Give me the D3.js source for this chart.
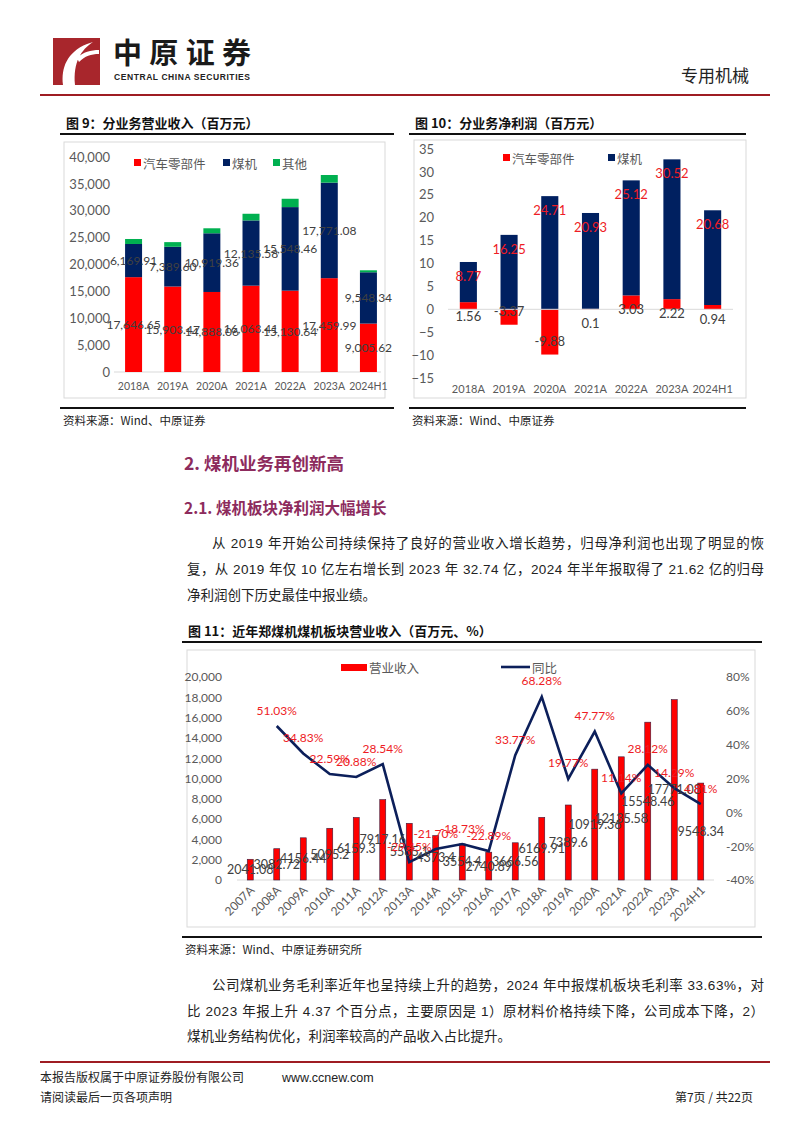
<!DOCTYPE html>
<html>
<head>
<meta charset="utf-8">
<script src="https://cdn.jsdelivr.net/npm/d3@7"></script>
<style>
  body { margin: 0; background: #fff; }
  svg { display: block; }
  text { font-family: 'Liberation Sans', 'Noto Sans CJK SC', sans-serif; }
  .cjk { font-family: 'Noto Sans CJK SC', sans-serif; }
  .xl { font-family: Lato, 'Noto Sans CJK SC', sans-serif; }
</style>
</head>
<body>
<div id="page"></div>
<script>
// fig 9 - revenue by segment
var cats9 = ['2018A', '2019A', '2020A', '2021A', '2022A', '2023A', '2024H1'];
var auto9 = [17646.65, 15903.47, 14888.06, 16063.41, 15130.64, 17459.99, 9005.62];
var coal9 = [6169.91, 7389.60, 10919.36, 12135.58, 15548.46, 17771.08, 9548.34];
var other9 = [930, 870, 930, 1240, 1550, 1420, 370];
var ticks9 = [0, 5000, 10000, 15000, 20000, 25000, 30000, 35000, 40000];

// fig 10 - net profit by segment
var cats10 = ['2018A', '2019A', '2020A', '2021A', '2022A', '2023A', '2024H1'];
var auto10 = [1.56, -3.37, -9.88, 0.1, 3.03, 2.22, 0.94];
var coal10 = [8.77, 16.25, 24.71, 20.93, 25.12, 30.52, 20.68];
var ticks10 = [-15, -10, -5, 0, 5, 10, 15, 20, 25, 30, 35];

// fig 11 - coal machinery revenue and yoy
var years11 = ['2007A', '2008A', '2009A', '2010A', '2011A', '2012A', '2013A', '2014A', '2015A',
  '2016A', '2017A', '2018A', '2019A', '2020A', '2021A', '2022A', '2023A', '2024H1'];
var rev11 = [2041.08, 3082.72, 4156.44, 5095.2, 6159.3, 7917.16, 5585.1, 4373.4, 3554.4,
  2740.89, 3666.56, 6169.91, 7389.6, 10919.36, 12135.58, 15548.46, 17771.08, 9548.34];
var yoy11 = [null, 51.03, 34.83, 22.59, 20.88, 28.54, -29.45, -21.70, -18.73,
  -22.89, 33.77, 68.28, 19.77, 47.77, 11.14, 28.12, 14.29, 4.81];
var ticksL11 = [0, 2000, 4000, 6000, 8000, 10000, 12000, 14000, 16000, 18000, 20000];
var ticksR11 = [-40, -20, 0, 20, 40, 60, 80];

var RED = '#ff0000', NAVY = '#002060', GREEN = '#00b050', GREY = '#595959', LAB = '#404040';
var MAROON = '#9e1c23', HEAD = '#8d2b5d';

var svg = d3.select('#page').append('svg')
  .attr('width', 802).attr('height', 1133);
svg.append('rect').attr('width', 802).attr('height', 1133).attr('fill', '#fff');

// ---------- header ----------
var logo = svg.append('g').attr('transform', 'translate(53,38)');
logo.append('rect').attr('width', 47).attr('height', 47).attr('fill', '#a8262c');
logo.append('path')
  .attr('d', 'M10,47 C8,30 14,14 34,6 L40,4 C28,12 20,24 22,47 Z M24,20 C30,14 38,12 46,12 L46,16 C38,16 32,18 26,24 Z')
  .attr('fill', '#fff');
svg.append('text').attr('class', 'cjk').attr('x', 113).attr('y', 64)
  .attr('font-size', 29).attr('font-weight', 'bold').attr('fill', '#1a1a1a')
  .attr('textLength', 138).text('中原证券');
svg.append('text').attr('x', 114).attr('y', 80)
  .attr('font-size', 8.5).attr('font-weight', 'bold').attr('fill', '#222')
  .attr('textLength', 136).text('CENTRAL CHINA SECURITIES');
svg.append('text').attr('class', 'cjk').attr('x', 749).attr('y', 82)
  .attr('text-anchor', 'end').attr('font-size', 17).attr('fill', '#222').text('专用机械');
svg.append('line').attr('x1', 40).attr('x2', 770).attr('y1', 95).attr('y2', 95)
  .attr('stroke', MAROON).attr('stroke-width', 2.2);

function figFrame(x1, x2, title, titleY, lineY, box, botY, srcText) {
  svg.append('text').attr('class', 'cjk').attr('x', x1 + 6).attr('y', titleY)
    .attr('font-size', 13).attr('font-weight', 'bold').attr('fill', '#111').text(title);
  svg.append('line').attr('x1', x1).attr('x2', x2).attr('y1', lineY).attr('y2', lineY)
    .attr('stroke', '#111').attr('stroke-width', 2);
  svg.append('rect').attr('x', box[0]).attr('y', box[1]).attr('width', box[2] - box[0])
    .attr('height', box[3] - box[1]).attr('fill', '#fff').attr('stroke', '#d9d9d9');
  svg.append('line').attr('x1', x1).attr('x2', x2).attr('y1', botY).attr('y2', botY)
    .attr('stroke', '#111').attr('stroke-width', 2);
  svg.append('text').attr('class', 'cjk').attr('x', x1 + 3).attr('y', botY + 17)
    .attr('font-size', 11.5).attr('fill', '#222').text(srcText);
}

// ---------- fig 9 ----------
figFrame(60, 394, '图 9：分业务营业收入（百万元）', 128, 134, [64, 142, 385, 398], 408, '资料来源：Wind、中原证券');

var x9 = d3.scaleBand().domain(cats9).range([114, 388]).paddingInner(0.566).paddingOuter(0.283);
var y9 = d3.scaleLinear().domain([0, 40000]).range([372, 157]);

var yAxis9 = svg.append('g').attr('transform', 'translate(114,0)')
  .call(d3.axisLeft(y9).tickValues(ticks9).tickFormat(d3.format(',')).tickSize(0).tickPadding(4));
yAxis9.select('.domain').remove();
yAxis9.selectAll('text').attr('class', 'xl').attr('font-size', 13).attr('fill', GREY);

svg.append('line').attr('x1', 114).attr('x2', 381).attr('y1', y9(0)).attr('y2', y9(0))
  .attr('stroke', '#d9d9d9');

var xAxis9 = svg.append('g').attr('transform', 'translate(0,380)')
  .call(d3.axisBottom(x9).tickSize(0).tickPadding(3));
xAxis9.select('.domain').remove();
xAxis9.selectAll('text').attr('class', 'xl').attr('font-size', 10.5).attr('fill', GREY);

var rows9 = cats9.map(function (c, i) {
  return { cat: c, auto: auto9[i], coal: coal9[i], other: other9[i] };
});
var stack9 = d3.stack().keys(['auto', 'coal', 'other'])(rows9);
var col9 = { auto: RED, coal: NAVY, other: GREEN };

svg.append('g').selectAll('g').data(stack9).enter().append('g')
  .attr('fill', function (s) { return col9[s.key]; })
  .selectAll('rect').data(function (s) { return s; }).enter().append('rect')
  .attr('x', function (d) { return x9(d.data.cat); })
  .attr('width', x9.bandwidth())
  .attr('y', function (d) { return y9(d[1]); })
  .attr('height', function (d) { return y9(d[0]) - y9(d[1]); });

stack9.slice(0, 2).forEach(function (s) {
  svg.append('g').selectAll('text').data(s).enter().append('text')
    .attr('class', 'xl')
    .attr('x', function (d) { return x9(d.data.cat) + x9.bandwidth() / 2; })
    .attr('y', function (d) { return y9((d[0] + d[1]) / 2); })
    .attr('text-anchor', 'middle').attr('dominant-baseline', 'central')
    .attr('font-size', 12).attr('fill', LAB)
    .text(function (d) { return d3.format(',.2f')(d.data[s.key]); });
});

var leg9 = [['汽车零部件', RED, 134], ['煤机', NAVY, 223], ['其他', GREEN, 273]];
leg9.forEach(function (l) {
  svg.append('rect').attr('x', l[2]).attr('y', 159).attr('width', 7).attr('height', 7).attr('fill', l[1]);
  svg.append('text').attr('class', 'cjk').attr('x', l[2] + 9).attr('y', 163)
    .attr('dominant-baseline', 'central').attr('font-size', 12.5).attr('fill', GREY).text(l[0]);
});

// ---------- fig 10 ----------
figFrame(409, 746, '图 10：分业务净利润（百万元）', 128, 134, [414, 140, 746, 398], 408, '资料来源：Wind、中原证券');

var x10 = d3.scaleBand().domain(cats10).range([448, 733]).paddingInner(0.58).paddingOuter(0.29);
var y10 = d3.scaleLinear().domain([-15, 35]).range([378, 149]);

var yAxis10 = svg.append('g').attr('transform', 'translate(440,0)')
  .call(d3.axisLeft(y10).tickValues(ticks10).tickSize(0).tickPadding(6));
yAxis10.select('.domain').remove();
yAxis10.selectAll('text').attr('class', 'xl').attr('font-size', 13).attr('fill', GREY);

var rows10 = cats10.map(function (c, i) { return { cat: c, auto: auto10[i], coal: coal10[i] }; });
var stack10 = d3.stack().keys(['auto', 'coal']).offset(d3.stackOffsetDiverging)(rows10);
var col10 = { auto: RED, coal: NAVY };

svg.append('g').selectAll('g').data(stack10).enter().append('g')
  .attr('fill', function (s) { return col10[s.key]; })
  .selectAll('rect').data(function (s) { return s; }).enter().append('rect')
  .attr('x', function (d) { return x10(d.data.cat); })
  .attr('width', x10.bandwidth())
  .attr('y', function (d) { return y10(Math.max(d[0], d[1])); })
  .attr('height', function (d) { return Math.abs(y10(d[0]) - y10(d[1])); });

svg.append('line').attr('x1', 448).attr('x2', 733).attr('y1', y10(0)).attr('y2', y10(0))
  .attr('stroke', '#d9d9d9');

var xAxis10 = svg.append('g').attr('transform', 'translate(0,385)')
  .call(d3.axisBottom(x10).tickSize(0).tickPadding(0));
xAxis10.select('.domain').remove();
xAxis10.selectAll('text').attr('class', 'xl').attr('font-size', 11).attr('fill', GREY);

stack10.forEach(function (s) {
  svg.append('g').selectAll('text').data(s).enter().append('text')
    .attr('class', 'xl')
    .attr('x', function (d) { return x10(d.data.cat) + x10.bandwidth() / 2; })
    .attr('y', function (d) {
      var v = d.data[s.key];
      return v >= 0 ? y10(d[1]) + 14 : y10(d[0]) - 14;
    })
    .attr('text-anchor', 'middle').attr('dominant-baseline', 'central')
    .attr('font-size', 13).attr('fill', s.key === 'coal' ? '#ee1c25' : LAB)
    .text(function (d) { return String(d.data[s.key]); });
});

var leg10 = [['汽车零部件', RED, 503], ['煤机', NAVY, 608]];
leg10.forEach(function (l) {
  svg.append('rect').attr('x', l[2]).attr('y', 154).attr('width', 7).attr('height', 7).attr('fill', l[1]);
  svg.append('text').attr('class', 'cjk').attr('x', l[2] + 9).attr('y', 158)
    .attr('dominant-baseline', 'central').attr('font-size', 12.5).attr('fill', GREY).text(l[0]);
});

// ---------- section text ----------
svg.append('text').attr('class', 'cjk').attr('x', 184).attr('y', 470)
  .attr('font-size', 17.5).attr('font-weight', 'bold').attr('fill', HEAD).text('2. 煤机业务再创新高');
svg.append('text').attr('class', 'cjk').attr('x', 184).attr('y', 514)
  .attr('font-size', 15.5).attr('font-weight', 'bold').attr('fill', HEAD).text('2.1. 煤机板块净利润大幅增长');

function para(lines, y0, step) {
  lines.forEach(function (ln, i) {
    var t = svg.append('text').attr('x', ln[1]).attr('y', y0 + i * step)
      .attr('font-size', 13.5).attr('fill', '#222').text(ln[0]);
    if (ln[2]) t.attr('textLength', 764 - ln[1]).attr('lengthAdjust', 'spacing');
  });
}
para([
  ['从 2019 年开始公司持续保持了良好的营业收入增长趋势，归母净利润也出现了明显的恢', 212, true],
  ['复，从 2019 年仅 10 亿左右增长到 2023 年 32.74 亿，2024 年半年报取得了 21.62 亿的归母', 187, true],
  ['净利润创下历史最佳中报业绩。', 187, false]
], 548, 26);

// ---------- fig 11 ----------
figFrame(182, 762, '图 11：近年郑煤机煤机板块营业收入（百万元、%）', 636, 642, [187, 650, 755, 927], 937, '资料来源：Wind、中原证券研究所');

var x11 = d3.scaleBand().domain(years11).range([237, 714]).paddingInner(0.774).paddingOuter(0.387);
var y11 = d3.scaleLinear().domain([0, 20000]).range([880, 677]);
var yr11 = d3.scaleLinear().domain([-40, 80]).range([880, 677]);

var yl = svg.append('g').attr('transform', 'translate(224,0)')
  .call(d3.axisLeft(y11).tickValues(ticksL11).tickFormat(d3.format(',')).tickSize(0).tickPadding(2));
yl.select('.domain').remove();
yl.selectAll('text').attr('class', 'xl').attr('font-size', 12).attr('fill', GREY);

var yr = svg.append('g').attr('transform', 'translate(724,0)')
  .call(d3.axisRight(yr11).tickValues(ticksR11).tickFormat(function (d) { return d + '%'; }).tickSize(0).tickPadding(2));
yr.select('.domain').remove();
yr.selectAll('text').attr('class', 'xl').attr('font-size', 12).attr('fill', GREY);

svg.append('line').attr('x1', 237).attr('x2', 714).attr('y1', y11(0)).attr('y2', y11(0))
  .attr('stroke', '#d9d9d9');

svg.append('g').selectAll('rect').data(rev11).enter().append('rect')
  .attr('x', function (d, i) { return x11(years11[i]); })
  .attr('width', x11.bandwidth())
  .attr('y', function (d) { return y11(d); })
  .attr('height', function (d) { return y11(0) - y11(d); })
  .attr('fill', RED).attr('stroke', '#3a1c3c').attr('stroke-width', 0.6);

var xa11 = svg.append('g').attr('transform', 'translate(0,880)')
  .call(d3.axisBottom(x11).tickSize(0));
xa11.select('.domain').remove();
xa11.selectAll('text').attr('class', 'xl').attr('font-size', 12).attr('fill', GREY)
  .attr('text-anchor', 'end').attr('dy', null).attr('y', 0)
  .attr('transform', 'translate(5,11) rotate(-45)');

var pts11 = yoy11.map(function (v, i) { return { cat: years11[i], v: v }; })
  .filter(function (p) { return p.v !== null; });
var line11 = d3.line()
  .x(function (p) { return x11(p.cat) + x11.bandwidth() / 2; })
  .y(function (p) { return yr11(p.v); });
svg.append('path').datum(pts11).attr('d', line11)
  .attr('fill', 'none').attr('stroke', '#0c1f5a').attr('stroke-width', 2.6)
  .attr('stroke-linejoin', 'miter');

svg.append('g').selectAll('text').data(rev11).enter().append('text')
  .attr('class', 'xl')
  .attr('x', function (d, i) { return x11(years11[i]) + x11.bandwidth() / 2; })
  .attr('y', function (d) { return y11(d / 2); })
  .attr('text-anchor', 'middle').attr('dominant-baseline', 'central')
  .attr('font-size', 12.5).attr('fill', LAB)
  .text(function (d) { return String(d); });

svg.append('g').selectAll('text').data(pts11).enter().append('text')
  .attr('class', 'xl')
  .attr('x', function (p) { return x11(p.cat) + x11.bandwidth() / 2; })
  .attr('y', function (p) { return yr11(p.v) - 16; })
  .attr('text-anchor', 'middle').attr('dominant-baseline', 'central')
  .attr('font-size', 12).attr('fill', '#ee1c25')
  .text(function (p) { return p.v.toFixed(2) + '%'; });

svg.append('rect').attr('x', 341).attr('y', 664).attr('width', 26).attr('height', 7).attr('fill', RED);
svg.append('text').attr('class', 'cjk').attr('x', 369).attr('y', 667)
  .attr('dominant-baseline', 'central').attr('font-size', 12.5).attr('fill', GREY).text('营业收入');
svg.append('line').attr('x1', 501).attr('x2', 530).attr('y1', 667).attr('y2', 667)
  .attr('stroke', '#0c1f5a').attr('stroke-width', 2.6);
svg.append('text').attr('class', 'cjk').attr('x', 532).attr('y', 667)
  .attr('dominant-baseline', 'central').attr('font-size', 12.5).attr('fill', GREY).text('同比');

para([
  ['公司煤机业务毛利率近年也呈持续上升的趋势，2024 年中报煤机板块毛利率 33.63%，对', 212, true],
  ['比 2023 年报上升 4.37 个百分点，主要原因是 1）原材料价格持续下降，公司成本下降，2）', 187, true],
  ['煤机业务结构优化，利润率较高的产品收入占比提升。', 187, false]
], 990, 25.5);

// ---------- footer ----------
svg.append('line').attr('x1', 40).attr('x2', 770).attr('y1', 1062).attr('y2', 1062)
  .attr('stroke', MAROON).attr('stroke-width', 2);
svg.append('text').attr('class', 'cjk').attr('x', 40).attr('y', 1082)
  .attr('font-size', 12).attr('fill', '#222').text('本报告版权属于中原证券股份有限公司');
svg.append('text').attr('x', 282).attr('y', 1082)
  .attr('font-size', 12.5).attr('fill', '#222').text('www.ccnew.com');
svg.append('text').attr('class', 'cjk').attr('x', 40).attr('y', 1102)
  .attr('font-size', 12).attr('fill', '#222').text('请阅读最后一页各项声明');
svg.append('text').attr('class', 'cjk').attr('x', 753).attr('y', 1102)
  .attr('text-anchor', 'end').attr('font-size', 12).attr('fill', '#222').text('第7页 / 共22页');
</script>
</body>
</html>
